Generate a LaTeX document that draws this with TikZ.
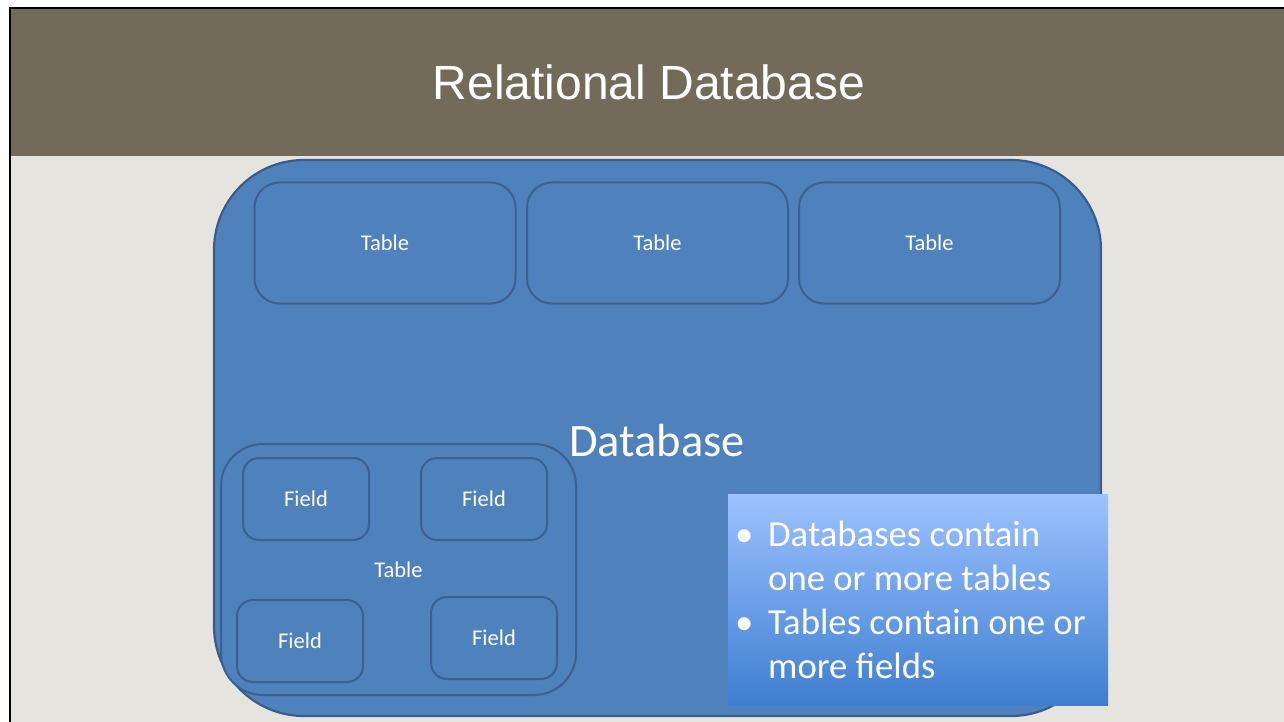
\documentclass[tikz,border=0pt]{standalone}
\usepackage{fontspec}
\setmainfont{Carlito}
\newfontfamily\titlefont{Liberation Sans}
\definecolor{titlebar}{RGB}{115,107,90}
\definecolor{slidebg}{RGB}{229,228,223}
\definecolor{dbfill}{RGB}{79,129,189}
\definecolor{dbline}{RGB}{56,93,138}
\definecolor{boxline}{RGB}{60,96,145}
\definecolor{gradtop}{RGB}{157,194,255}
\definecolor{gradbot}{RGB}{62,126,208}
\tikzset{
  dbbox/.style={draw=dbline, line width=2.2pt, fill=dbfill, rounded corners=90pt, inner sep=0pt},
  tablebox/.style={draw=boxline, line width=2pt, fill=dbfill, rounded corners=25pt,
    minimum width=261pt, minimum height=121pt, inner sep=0pt, text=white,
    font=\fontsize{22.5}{27}\selectfont},
  innertable/.style={draw=boxline, line width=2pt, fill=dbfill, rounded corners=42pt,
    minimum width=355pt, minimum height=251pt, inner sep=0pt, text=white,
    font=\fontsize{22.5}{27}\selectfont},
  fieldbox/.style={draw=boxline, line width=2pt, fill=dbfill, rounded corners=16pt,
    minimum width=126pt, minimum height=82pt, inner sep=0pt, text=white,
    font=\fontsize{22.5}{27}\selectfont},
}
\begin{document}
\begin{tikzpicture}[x=1pt,y=-1pt]
\useasboundingbox (0,0) rectangle (1284,722);
% page background and slide
\fill[white] (0,0) rectangle (1284,722);
\fill[slidebg] (11,9) rectangle (1284,722);
\fill[titlebar] (11,9) rectangle (1284,156);
\draw[black, line width=2.5pt] (10,722) -- (10,8.2) -- (1284,8.2);
\node[text=white, font=\titlefont\fontsize{48}{58}\selectfont, anchor=base] (title) at (649,100) {Relational Database};
% database
\node[dbbox, minimum width=887pt, minimum height=556pt] (db) at (657.5,438) {};
\node[text=white, font=\fontsize{46.5}{56}\selectfont, anchor=base, inner sep=0pt] (dblabel) at (657,456) {Database};
% top tables
\node[tablebox] (t1) at (385,243) {Table};
\node[tablebox] (t2) at (657.5,243) {Table};
\node[tablebox] (t3) at (929.5,243) {Table};
% inner table with fields
\node[innertable] (t4) at (398.5,569.5) {Table};
\node[fieldbox] (f1) at (306,499) {Field};
\node[fieldbox] (f2) at (484,499) {Field};
\node[fieldbox] (f3) at (300,641) {Field};
\node[fieldbox] (f4) at (494,638) {Field};
% bullet box
\node[top color=gradtop, bottom color=gradbot, minimum width=380pt, minimum height=211pt, inner sep=0pt] (bul) at (918,599.5) {};
\node[anchor=base west, inner sep=0pt, text=white, font=\fontsize{36.7}{44}\selectfont] (bultext) at (724,546)
{\begin{tabular}[t]{@{}l@{\hspace{4pt}}l@{}}
\makebox[40pt]{•} & Databases contain\\
\makebox[40pt]{} & one or more tables\\
\makebox[40pt]{•} & Tables contain one or\\
\makebox[40pt]{} & more fields
\end{tabular}};
\end{tikzpicture}
\end{document}
